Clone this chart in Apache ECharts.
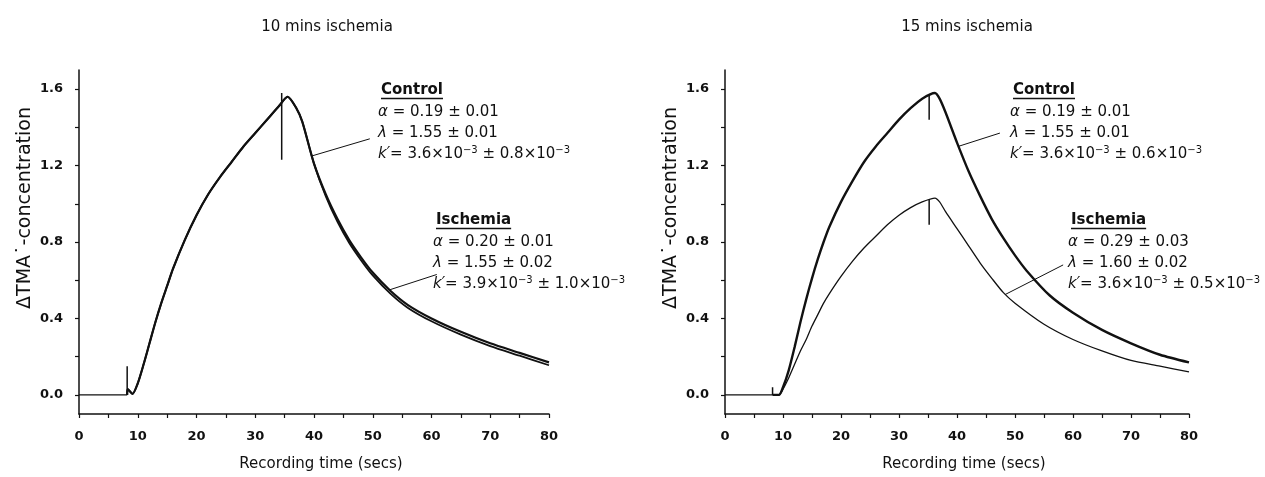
<!DOCTYPE html>
<html><head><meta charset="utf-8">
<script src="https://cdn.jsdelivr.net/npm/echarts@6/dist/echarts.min.js"></script>
<style>html,body{margin:0;padding:0;background:#fff}#c{width:1265px;height:477px}</style>
</head><body><div id="c"></div>
<script>
const panelTitles = ['10 mins ischemia', '15 mins ischemia'];
const xAxisName = 'Recording time (secs)';
const yAxisName = 'ΔTMA˙-concentration';
const xTicks = [0,5,10,15,20,25,30,35,40,45,50,55,60,65,70,75,80];
const xLabels = [0,10,20,30,40,50,60,70,80];
const yTicks = [0,0.2,0.4,0.6,0.8,1.0,1.2,1.4,1.6];
const yLabels = [0,0.4,0.8,1.2,1.6];

// Flat pre-injection baseline (both panels)
const baselineTime = [0, 8.2];
const baselineValue = [0, 0];

// Left panel (10 mins ischemia)
const leftControlTime =   [8.2, 8.3, 9.1, 10, 11, 12, 13, 14, 15, 16, 18, 20, 22, 24, 26, 28, 30, 32, 34, 35.5, 37, 38, 40, 42, 44, 46, 48, 50, 53, 56, 60, 65, 70, 75, 80];
const leftControlValue =  [0, 0.03, 0.005, 0.06, 0.16, 0.27, 0.38, 0.48, 0.57, 0.66, 0.81, 0.94, 1.05, 1.14, 1.22, 1.30, 1.37, 1.44, 1.51, 1.56, 1.50, 1.43, 1.21, 1.05, 0.92, 0.81, 0.72, 0.64, 0.545, 0.47, 0.40, 0.33, 0.27, 0.22, 0.17];
const leftIschemiaTime =  [8.2, 8.3, 9.1, 10, 11, 12, 13, 14, 15, 16, 18, 20, 22, 24, 26, 28, 30, 32, 34, 35.5, 37, 38, 40, 42, 44, 46, 48, 50, 53, 56, 60, 65, 70, 75, 80];
const leftIschemiaValue = [0, 0.03, 0.005, 0.06, 0.16, 0.27, 0.38, 0.48, 0.57, 0.66, 0.81, 0.94, 1.05, 1.14, 1.22, 1.30, 1.37, 1.44, 1.51, 1.56, 1.50, 1.43, 1.21, 1.04, 0.905, 0.795, 0.705, 0.625, 0.53, 0.455, 0.385, 0.315, 0.255, 0.205, 0.155];
// Artifact spikes (time, from, to)
const leftSpikes = [[8.2, 0, 0.15], [34.5, 1.23, 1.58]];

// Right panel (15 mins ischemia)
const rightControlTime =   [8.2, 9.3, 10, 11, 12, 13, 14, 15, 16, 17, 18, 20, 22, 24, 26, 28, 30, 32, 34, 36.2, 37, 38, 40, 42, 44, 46, 48, 50, 52, 56, 60, 65, 70, 75, 80];
const rightControlValue =  [0, 0, 0.04, 0.13, 0.25, 0.38, 0.50, 0.61, 0.71, 0.80, 0.88, 1.01, 1.12, 1.22, 1.30, 1.37, 1.44, 1.50, 1.55, 1.58, 1.55, 1.48, 1.32, 1.17, 1.04, 0.92, 0.82, 0.73, 0.65, 0.52, 0.43, 0.34, 0.27, 0.21, 0.17];
const rightIschemiaTime =  [8.2, 9.3, 10, 11, 12, 13, 14, 15, 16, 17, 18, 20, 22, 24, 26, 28, 30, 32, 34, 36.2, 37, 38, 40, 42, 44, 46, 48, 50, 55, 60, 65, 70, 75, 80];
const rightIschemiaValue = [0, 0, 0.03, 0.09, 0.16, 0.23, 0.29, 0.36, 0.42, 0.48, 0.53, 0.62, 0.70, 0.77, 0.83, 0.89, 0.94, 0.98, 1.01, 1.03, 1.01, 0.96, 0.87, 0.78, 0.69, 0.61, 0.535, 0.48, 0.37, 0.29, 0.23, 0.18, 0.15, 0.12];
const rightSpikes = [[8.2, 0, 0.04], [35.2, 1.44, 1.57], [35.2, 0.89, 1.02]];

// Leader lines (data coordinates: curve point -> label)
const leftControlLeader = [[39.6, 1.25], [49.5, 1.34]];
const leftIschemiaLeader = [[52.9, 0.55], [60.9, 0.63]];
const rightControlLeader = [[40.2, 1.30], [47.4, 1.37]];
const rightIschemiaLeader = [[48.3, 0.525], [58.3, 0.68]];

// Annotation texts
const leftControlNotes = ['Control', '{i|α} = 0.19 ± 0.01', '{i|λ} = 1.55 ± 0.01', '{i|k′}= 3.6×10{s|−3} ± 0.8×10{s|−3}'];
const leftIschemiaNotes = ['Ischemia', '{i|α} = 0.20 ± 0.01', '{i|λ} = 1.55 ± 0.02', '{i|k′}= 3.9×10{s|−3} ± 1.0×10{s|−3}'];
const rightControlNotes = ['Control', '{i|α} = 0.19 ± 0.01', '{i|λ} = 1.55 ± 0.01', '{i|k′}= 3.6×10{s|−3} ± 0.6×10{s|−3}'];
const rightIschemiaNotes = ['Ischemia', '{i|α} = 0.29 ± 0.03', '{i|λ} = 1.60 ± 0.02', '{i|k′}= 3.6×10{s|−3} ± 0.5×10{s|−3}'];

const FONT = '"DejaVu Sans", "Liberation Sans", Arial, sans-serif';
const INK = '#111';
const zip = (t, v) => t.map((x, i) => [x, v[i]]);

const grids = [
  {left: 79, top: 70, width: 470, height: 347},
  {left: 725, top: 70, width: 464, height: 347}
];

function xAxisFor(i) {
  return {
    type: 'value', gridIndex: i, min: 0, max: 80,
    axisLine: {onZero: false, lineStyle: {color: INK, width: 1.5}},
    axisTick: {customValues: xTicks, length: 4, lineStyle: {color: INK, width: 1.2}},
    axisLabel: {customValues: xLabels, fontFamily: FONT, fontWeight: 'bold', fontSize: 13, color: INK, margin: 16},
    splitLine: {show: false},
    name: xAxisName, nameLocation: 'middle', nameGap: 43,
    nameTextStyle: {fontFamily: FONT, fontSize: 15, color: INK, padding: [0, 0, 0, 14]}
  };
}
function yAxisFor(i) {
  return {
    type: 'value', gridIndex: i, min: -0.1, max: 1.7,
    axisLine: {show: true, onZero: false, lineStyle: {color: INK, width: 1.5}},
    axisTick: {show: true, customValues: yTicks, length: 4, lineStyle: {color: INK, width: 1.2}},
    axisLabel: {customValues: yLabels, formatter: v => Number(v).toFixed(1), fontFamily: FONT, fontWeight: 'bold', fontSize: 13, color: INK, margin: 16},
    splitLine: {show: false}
  };
}
function curve(i, t, v, w) {
  return {type: 'line', xAxisIndex: i, yAxisIndex: i, data: zip(t, v), showSymbol: false, symbol: 'none',
    smooth: 0.25, lineStyle: {color: INK, width: w}, z: 3, silent: true};
}
function segment(i, pts, w) {
  return {type: 'line', xAxisIndex: i, yAxisIndex: i, data: pts, showSymbol: false, symbol: 'none',
    lineStyle: {color: INK, width: w}, z: 2, silent: true};
}
function spikes(i, list) {
  return list.map(s => segment(i, [[s[0], s[1]], [s[0], s[2]]], 1.5));
}

const chart = echarts.init(document.getElementById('c'), null, {renderer: 'canvas'});

const cv = document.createElement('canvas').getContext('2d');
const rowGap = [0, 21.7, 43, 64];
function notes(lines, x, y) {
  const els = [];
  lines.forEach((s, k) => {
    if (k === 0) {
      els.push({type: 'text', x: x + 3, y: y, style: {text: s, fontFamily: FONT, fontSize: 15, fontWeight: 'bold', fill: INK, verticalAlign: 'middle'}});
      cv.font = 'bold 15px ' + FONT;
      const w = cv.measureText(s).width;
      els.push({type: 'line', shape: {x1: x + 3, y1: y + 8.5, x2: x + 3 + w, y2: y + 8.5}, style: {stroke: INK, lineWidth: 1.3}});
    } else {
      els.push({type: 'text', x: x, y: y + rowGap[k], style: {text: s, fontFamily: FONT, fontSize: 15, fill: INK,
        verticalAlign: 'middle', lineHeight: 18,
        rich: {
          i: {fontFamily: FONT, fontSize: 15, fontStyle: 'italic', fill: INK, lineHeight: 18},
          s: {fontFamily: FONT, fontSize: 10, fill: INK, verticalAlign: 'top', lineHeight: 18}
        }}});
    }
  });
  return els;
}
function yName(x) {
  return {type: 'text', x: x, y: 208, rotation: Math.PI / 2,
    style: {text: yAxisName, fontFamily: FONT, fontSize: 19, fill: INK, align: 'center', verticalAlign: 'middle'}};
}

const option = {
  animation: false,
  backgroundColor: '#fff',
  title: [
    {text: panelTitles[0], left: 322, top: 15, textAlign: 'center', textStyle: {fontFamily: FONT, fontSize: 15, fontWeight: 'normal', color: INK}},
    {text: panelTitles[1], left: 962, top: 15, textAlign: 'center', textStyle: {fontFamily: FONT, fontSize: 15, fontWeight: 'normal', color: INK}}
  ],
  grid: grids,
  xAxis: [xAxisFor(0), xAxisFor(1)],
  yAxis: [yAxisFor(0), yAxisFor(1)],
  series: [
    segment(0, zip(baselineTime, baselineValue), 1.2),
    segment(1, zip(baselineTime, baselineValue), 1.2),
    curve(0, leftControlTime, leftControlValue, 2.2),
    curve(0, leftIschemiaTime, leftIschemiaValue, 1.8),
    curve(1, rightControlTime, rightControlValue, 2.4),
    curve(1, rightIschemiaTime, rightIschemiaValue, 1.3),
    ...spikes(0, leftSpikes),
    ...spikes(1, rightSpikes),
    segment(0, leftControlLeader, 1),
    segment(0, leftIschemiaLeader, 1),
    segment(1, rightControlLeader, 1),
    segment(1, rightIschemiaLeader, 1)
  ],
  graphic: [
    yName(25), yName(671),
    ...notes(leftControlNotes, 378, 90),
    ...notes(leftIschemiaNotes, 433, 220),
    ...notes(rightControlNotes, 1010, 90),
    ...notes(rightIschemiaNotes, 1068, 220)
  ]
};
chart.setOption(option);
</script>
</body></html>
